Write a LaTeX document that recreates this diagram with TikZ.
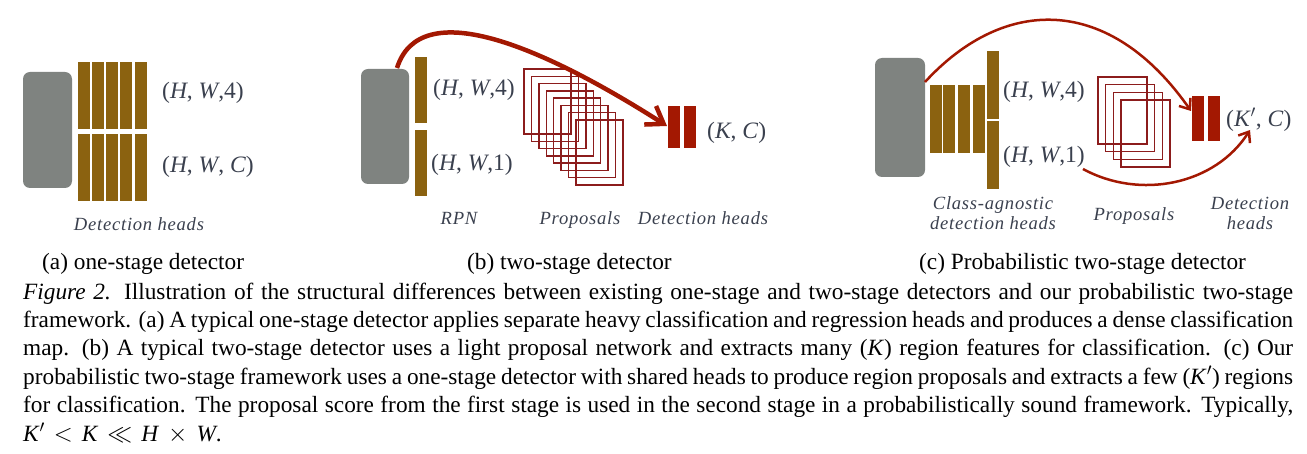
\documentclass[tikz,border=0pt]{standalone}
\usepackage{fontspec}
\setmainfont{Liberation Serif}
\newfontfamily\lblfont[LetterSpace=4]{Liberation Serif}
\usetikzlibrary{arrows.meta}
\definecolor{bbgray}{RGB}{127,131,128}
\definecolor{bbrown}{RGB}{139,98,16}
\definecolor{bred}{RGB}{163,24,2}
\definecolor{bprop}{RGB}{140,28,28}
\definecolor{blabel}{RGB}{58,64,78}
\newcommand\blk[6]{\node[#1, anchor=north west, minimum width=#5pt, minimum height=#6pt, inner sep=0pt, outer sep=0pt] (#2) at (#3,#4) {};}
\newcommand\capline[1]{\makebox[1270pt][s]{#1}}
\newcommand\mgap{\hspace{9pt}}
\begin{document}
\begin{tikzpicture}[x=1pt,y=-1pt,
  backbone/.style={fill=bbgray, draw=none, rounded corners=7pt},
  headbar/.style={fill=bbrown, draw=none},
  redbar/.style={fill=bred, draw=none},
  prop/.style={draw=bprop, line width=1.4pt},
  dimlab/.style={text=blabel, font=\fontsize{23.5}{26}\selectfont, inner sep=0pt, anchor=west},
  itlab/.style={text=blabel, font=\lblfont\itshape\fontsize{18.6}{20}\selectfont, inner sep=0pt, anchor=base},
  subcap/.style={font=\fontsize{23.3}{28}\selectfont, inner sep=0pt, anchor=base west},
  capstyle/.style={font=\fontsize{23.3}{24}\selectfont, inner sep=0pt, anchor=base west},
  bigarrow/.style={draw=bred, line width=4.5pt, -{Straight Barb[length=16pt,width=22pt]}},
  thinarrow/.style={draw=bred, line width=2.5pt, -{Straight Barb[length=9pt,width=14pt]}}
]
\useasboundingbox (0,0) rectangle (1307,454);

% ---------------- (a) one-stage ----------------
\blk{backbone}{bbA}{23}{72}{49}{116}
\foreach \i/\xx in {1/78,2/92,3/106,4/120,5/135}{
  \blk{headbar}{aT\i}{\xx}{62}{12}{67}
  \blk{headbar}{aB\i}{\xx}{134}{12}{67}
}
\node[dimlab] (aL1) at (162,93) {(\textit{H}, \textit{W},4)};
\node[dimlab] (aL2) at (162,167) {(\textit{H}, \textit{W}, \textit{C})};
\node[itlab] (aDH) at (139,230.5) {Detection heads};

% ---------------- (b) two-stage ----------------
\blk{backbone}{bbB}{361}{69}{48}{115}
\blk{headbar}{bT}{415}{57}{12}{66}
\blk{headbar}{bB}{415}{130}{12}{66}
\node[dimlab] (bL1) at (433,90) {(\textit{H}, \textit{W},4)};
\node[dimlab] (bL2) at (431,165) {(\textit{H}, \textit{W},1)};
\foreach \i in {0,...,7}{
  \draw[prop] ({524+7.4*\i},{69+7.3*\i}) rectangle ++(47,65);
}
\blk{redbar}{bR1}{668}{106}{12}{42}
\blk{redbar}{bR2}{684}{106}{12}{42}
\node[dimlab] (bL3) at (707,133) {(\textit{K}, \textit{C})};
\node[itlab] (bRPN) at (459,225) {RPN};
\node[itlab] (bProp) at (580,225) {Proposals};
\node[itlab] (bDH) at (703,225) {Detection heads};
\coordinate (bS) at (397,68);
\coordinate (bE) at (667,126);
\draw[bigarrow] (bS) .. controls (420,-5) and (540,45) .. (bE);

% ---------------- (c) probabilistic two-stage ----------------
\blk{backbone}{bbC}{875}{58}{50}{119}
\foreach \i/\xx in {1/930,2/943,3/958,4/973}{
  \blk{headbar}{cS\i}{\xx}{85}{12}{68}
}
\blk{headbar}{cT}{987}{51}{12}{68}
\blk{headbar}{cB}{987}{121}{12}{68}
\node[dimlab] (cL1) at (1003,92) {(\textit{H}, \textit{W},4)};
\node[dimlab] (cL2) at (1003,157) {(\textit{H}, \textit{W},1)};
\foreach \i in {0,...,3}{
  \draw[prop] ({1098+7.7*\i},{77+7.7*\i}) rectangle ++(49,67);
}
\blk{redbar}{cR1}{1192}{96}{12}{45}
\blk{redbar}{cR2}{1208}{96}{12}{45}
\node[dimlab] (cL3) at (1226,120) {(\textit{K}$'$, \textit{C})};
\node[itlab] (cCA1) at (993,209.3) {Class-agnostic};
\node[itlab] (cCA2) at (993,229.3) {detection heads};
\node[itlab] (cProp) at (1134,221) {Proposals};
\node[itlab] (cDH1) at (1250,209.3) {Detection};
\node[itlab] (cDH2) at (1250,229.3) {heads};
\coordinate (cS1) at (925,82);
\coordinate (cE1) at (1191,111);
\draw[thinarrow] (cS1) .. controls (1005,-5) and (1110,-5) .. (cE1);
\coordinate (cS2) at (1083,169);
\coordinate (cE2) at (1250,130);
\draw[thinarrow] (cS2) .. controls (1140,200) and (1215,185) .. (cE2);

% ---------------- sub-captions ----------------
\node[subcap] (subA) at (42,269.5) {(a) one-stage detector};
\node[subcap] (subB) at (467,269.5) {(b) two-stage detector};
\node[subcap] (subC) at (919,269.5) {(c) Probabilistic two-stage detector};

% ---------------- caption ----------------
\node[capstyle] (cap1) at (23,299.3) {\capline{\textit{Figure 2.} Illustration of the structural differences between existing one-stage and two-stage detectors and our probabilistic two-stage}};
\node[capstyle] (cap2) at (23,327.6) {\capline{framework. (a) A typical one-stage detector applies separate heavy classification and regression heads and produces a dense classification}};
\node[capstyle] (cap3) at (23,355.9) {\capline{map. (b) A typical two-stage detector uses a light proposal network and extracts many (\textit{K}) region features for classification. (c) Our}};
\node[capstyle] (cap4) at (23,384.2) {\capline{probabilistic two-stage framework uses a one-stage detector with shared heads to produce region proposals and extracts a few (\textit{K}$'$) regions}};
\node[capstyle] (cap5) at (23,412.5) {\capline{for classification. The proposal score from the first stage is used in the second stage in a probabilistically sound framework. Typically,}};
\node[capstyle] (cap6) at (23,441.5) {\textit{K}$'$\mgap$<$\mgap\textit{K}\mgap$\ll$\mgap\textit{H}\mgap$\times$\mgap\textit{W}.};
\end{tikzpicture}
\end{document}
